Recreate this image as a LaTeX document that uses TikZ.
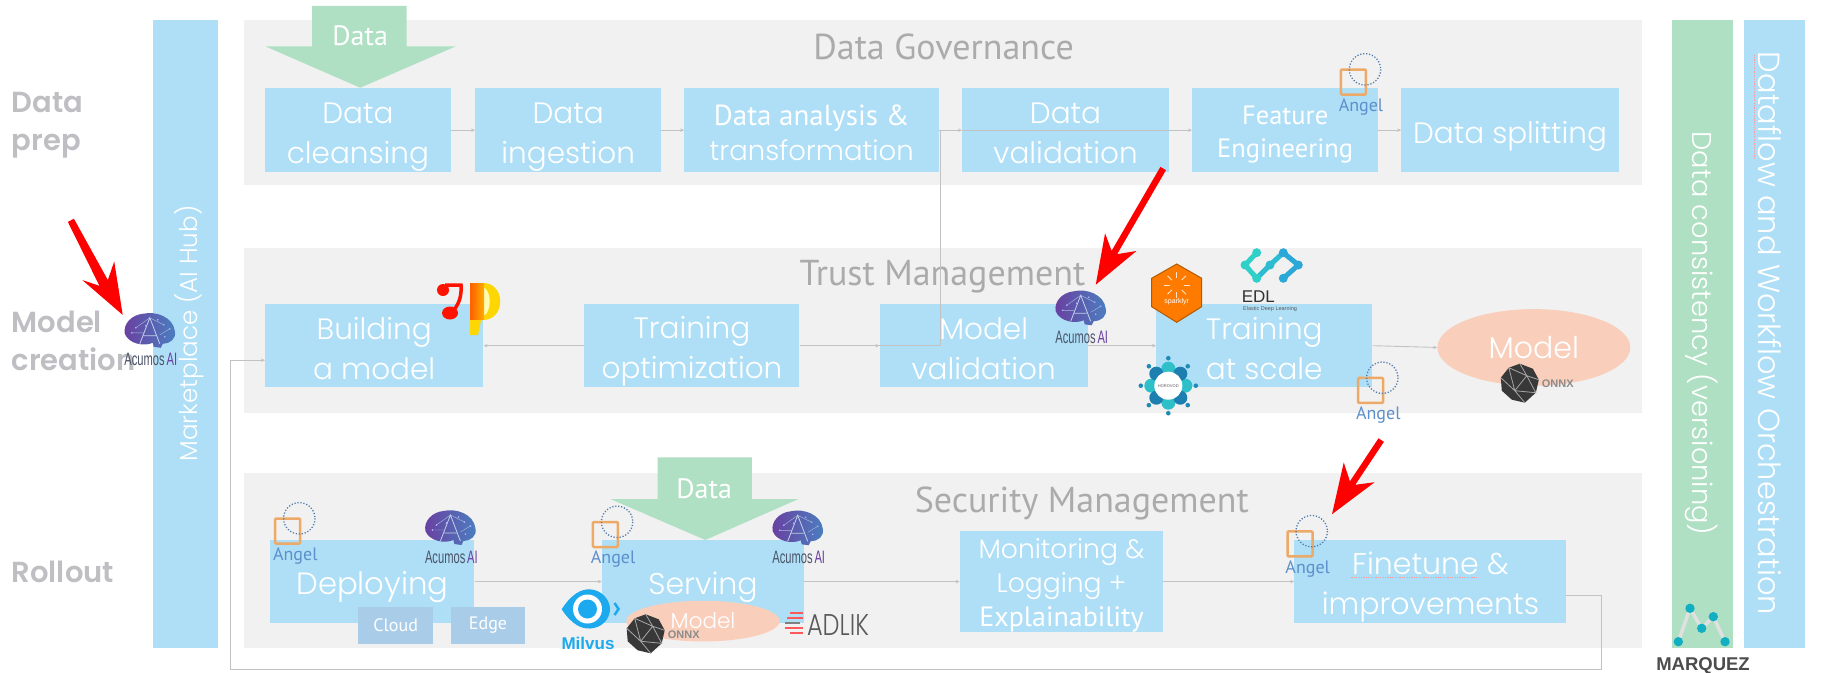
\documentclass[tikz,border=0pt]{standalone}
\usepackage{fontspec}
\usepackage{graphicx}
\usetikzlibrary{arrows.meta,shapes.geometric}
\setmainfont{PT Sans}
\newfontfamily\lightf{Poppins}[UprightFont=* Light]
\newfontfamily\semif{Poppins}[UprightFont=* SemiBold]
\newfontfamily\ptf{PT Sans}
\newfontfamily\sansf{Liberation Sans}
\newcommand\fs[2]{\fontsize{#1}{#2}\selectfont}
\newcommand\ltop{\rule{0pt}{34pt}}
\newcommand\lbot{\rule[-7pt]{0pt}{7pt}}
\definecolor{boxblue}{HTML}{AEDFF7}
\definecolor{panelgrey}{HTML}{F1F1F1}
\definecolor{barmint}{HTML}{AFE0C3}
\definecolor{peach}{HTML}{F9CFBC}
\definecolor{cloudblue}{HTML}{A9CCE8}
\definecolor{labelgrey}{HTML}{BEBEC3}
\definecolor{headgrey}{HTML}{ABABAB}
\definecolor{linegrey}{HTML}{C2C2C2}
\definecolor{angelblue}{HTML}{5C8FCB}
\definecolor{angelorange}{HTML}{EDA968}
\definecolor{brainpurple}{HTML}{6A3FA0}
\definecolor{brainblue}{HTML}{4A7FC0}
\definecolor{acgrey}{HTML}{4A5468}
\definecolor{edlteal}{HTML}{2FD0C8}
\definecolor{edlblue}{HTML}{2BA8D8}
\definecolor{horoblue}{HTML}{1C7FB0}
\definecolor{horoteal}{HTML}{2FBFC8}
\definecolor{milvus}{HTML}{1DA9EE}
\definecolor{marqteal}{HTML}{12AEC2}
\tikzset{
 panel/.style={fill=panelgrey,draw=none,inner sep=0pt},
 bar/.style={fill=boxblue,draw=none,inner sep=0pt,text=white},
 bx/.style={fill=boxblue,draw=none,inner sep=0pt,text=white,align=center},
 subbox/.style={fill=cloudblue,draw=none,inner sep=0pt,text=white,font=\ptf\fs{18}{20}},
 modelell/.style={ellipse,fill=peach,draw=none,inner sep=0pt,text=white},
 flow/.style={draw=linegrey,line width=0.9pt,-{Stealth[length=4pt,width=3.5pt]}},
 plainflow/.style={draw=linegrey,line width=0.9pt},
 heading/.style={text=headgrey,font=\ptf\fs{36}{38},inner sep=0pt},
 sidelabel/.style={text=labelgrey,font=\semif\fs{29}{38},align=left,anchor=west,inner sep=0pt},
 dataarrow/.style={fill=barmint,draw=none},
 redarrow/.style={fill=red,draw=none},
 lgt/.style={font=\lightf\fs{#1}{40}},
}
\newcommand\acumoslogo[3]{%
 \begin{scope}[shift={(#2pt,-#3pt)},x=1pt,y=-1pt]
  \path[left color=brainpurple,right color=brainblue,draw=none]
   (-25,3) .. controls (-27,-7) and (-18,-16) .. (-7,-17) .. controls (6,-20) and (23,-14) .. (25,0)
   .. controls (27,8) and (20,13) .. (13,13) -- (11,17) -- (4,16) -- (3,12) .. controls (-6,16) and (-21,13) .. (-25,3) -- cycle;
  \draw[brainblue!35!white,line width=0.8pt] (-10,13) -- (0,-13) -- (10,13) (-6,5) -- (6,5);
  \draw[brainblue!50!white,line width=0.4pt] (0,-13) -- (-14,-3) (0,-13) -- (14,-6) (10,4) -- (20,-2) (-18,2) -- (-6,2);
  \foreach \a/\b in {-14/-3,14/-6,20/-2,-18/2,8/-11,-4/-5,15/6}{\fill[white!70!blue] (\a,\b) circle (0.9);}
  \node[inner sep=0pt,font=\sansf\fs{18}{19}] (#1txt) at (1,29) {\scalebox{0.62}[1]{\textcolor{acgrey}{Acumos}\,\textcolor{brainpurple}{AI}}};
 \end{scope}}
\newcommand\angellogo[3]{%
 \begin{scope}[shift={(#2pt,-#3pt)},x=1pt,y=-1pt]
  \draw[angelorange,line width=2.5pt,rounded corners=1pt] (-12.5,-12.5) rectangle (12.5,12.5);
  \draw[angelblue!85!black,line width=1.3pt,dash pattern=on 1.2pt off 1.8pt] (11.7,-12.7) circle (15.7);
  \node[inner sep=0pt,text=angelblue,font=\ptf\fs{18}{19}] (#1txt) at (7.7,24.7) {Angel};
 \end{scope}}
\newcommand\onnxlogo[3]{%
 \begin{scope}[shift={(#2pt,-#3pt)},x=1pt,y=-1pt]
  \fill[black!78] (0,-19) -- (13,-14) -- (19,-3) -- (16,10) -- (5,20) -- (-8,17) -- (-18,8) -- (-19,-5) -- (-11,-15) -- cycle;
  \draw[black!35,line width=0.8pt] (-11,-15) -- (7,-7) -- (19,-3) (7,-7) -- (0,-19) (7,-7) -- (-5,8) -- (5,20) (-5,8) -- (-19,-5) (-11,-15) -- (-5,8) (7,-7) -- (16,10) -- (-5,8);
  \node[inner sep=0pt,text=black!45,font=\sansf\bfseries\fs{11}{12}] (#1txt) at (38,1) {ONNX};
 \end{scope}}
\begin{document}
\begin{tikzpicture}[x=1.162pt,y=-1.162pt]
\useasboundingbox (0pt,0pt) rectangle (1822pt,-672pt);
\fill[white] (0pt,0pt) rectangle (1822pt,-672pt);
% panels and bars
\path[panel] (210,17) rectangle (1413,159);
\path[panel] (210,213) rectangle (1413,355);
\path[panel] (210,407) rectangle (1413,558);
\node[bar,minimum width={56*1.162pt},minimum height={541*1.162pt}] (market) at (160,287.5) {};
\node[text=white,rotate=90,inner sep=0pt,font=\lightf\fs{24.6}{26}] (markettxt) at (163,287) {Marketplace (AI Hub)};
\node[bar,fill=barmint,minimum width={52*1.162pt},minimum height={541*1.162pt}] (consist) at (1465,287.5) {};
\node[text=white,rotate=-90,inner sep=0pt,font=\lightf\fs{27.3}{30}] (consisttxt) at (1464,287) {Data consistency (versioning)};
\node[bar,minimum width={52*1.162pt},minimum height={541*1.162pt}] (orch) at (1527,287.5) {};
\node[text=white,rotate=-90,inner sep=0pt,font=\lightf\fs{30.5}{33}] (orchtxt) at (1523,287) {Dataflow and Workflow Orchestration};
\draw[red!40!white,line width=1pt,dash pattern=on 1.2pt off 1.2pt] (1510,47) -- (1510,137);
% side labels
\node[sidelabel] (lblprep) at (10,107.5) {Data\\prep};
\node[sidelabel] (lblmodel) at (10,293.5) {Model\\creation};
\node[sidelabel] (lblroll) at (10,492) {Rollout};
% headings
\node[heading] (h1) at (812,40) {Data Governance};
\node[heading] (h2) at (811,238) {Trust Management};
\node[heading] (h3) at (931,433) {Security Management};
% data arrows
\path[dataarrow] (268.6,5) -- (350,5) -- (350,40) -- (392,40) -- (310,75.5) -- (228.6,40) -- (268.6,40) -- cycle;
\node[text=white,inner sep=0pt,font=\ptf\fs{28}{29}] (data1) at (310,31) {Data};
% row 1
\node[bx,lgt=29.5,minimum width={160*1.162pt},minimum height={72*1.162pt}] (clean) at (308,112) {\ltop Data\\cleansing\lbot};
\node[bx,lgt=29.5,minimum width={160*1.162pt},minimum height={72*1.162pt}] (ingest) at (489,112) {\ltop Data\\ingestion\lbot};
\node[bx,font=\fs{28}{35},minimum width={219*1.162pt},minimum height={72*1.162pt}] (analysis) at (698.5,112) {\rule{0pt}{32pt}{\ptf\fs{29}{35}Data analysis \&}\\{\lightf\fs{27.5}{35}transformation}\lbot};
\node[bx,lgt=29.5,minimum width={178*1.162pt},minimum height={72*1.162pt}] (valid) at (917,112) {\ltop Data\\validation\lbot};
\node[bx,font=\fs{26}{33},minimum width={160*1.162pt},minimum height={72*1.162pt}] (feature) at (1106,112) {\rule{0pt}{28pt}{\ptf\fs{26.5}{33}Feature\hspace{14pt}}\\{\ptf\fs{26.5}{33}Engineering}\rule[-6pt]{0pt}{6pt}};
\node[bx,lgt=29.5,minimum width={187*1.162pt},minimum height={72*1.162pt}] (split) at (1299.5,112) {\ltop Data splitting\lbot};
% row 2
\node[bx,lgt=29.5,minimum width={188*1.162pt},minimum height={71*1.162pt}] (build) at (322,297.5) {\ltop Building\\a model\lbot};
\node[bx,lgt=29.5,minimum width={185*1.162pt},minimum height={71*1.162pt}] (topt) at (595.5,297.5) {\ltop Training\\optimization\lbot};
\node[bx,lgt=29.5,minimum width={179*1.162pt},minimum height={71*1.162pt}] (mval) at (846.5,297.5) {\ltop Model\\validation\lbot};
\node[bx,lgt=29.5,minimum width={186*1.162pt},minimum height={71*1.162pt}] (scale) at (1088,297.5) {\ltop Training\\at scale\lbot};
\node[modelell,lgt=30,minimum width={166*1.162pt},minimum height={66*1.162pt}] (model) at (1320,299) {Model};
% row 3
\node[bx,lgt=30.7,minimum width={175.5*1.162pt},minimum height={71*1.162pt}] (deploy) at (320.5,500.5) {\ltop Deploying\lbot};
\path[dataarrow] (566,393.5) -- (647,393.5) -- (647,429.5) -- (687,429.5) -- (607,464.7) -- (525.5,429.5) -- (566,429.5) -- cycle;
\node[text=white,inner sep=0pt,font=\ptf\fs{28}{29}] (data2) at (606,421) {Data};
\node[bx,lgt=30,minimum width={174*1.162pt},minimum height={71*1.162pt}] (serve) at (605,500.5) {\ltop Serving\lbot};
\node[bx,font=\fs{26}{33.7},minimum width={175*1.162pt},minimum height={85*1.162pt}] (monitor) at (913.5,500.5) {\rule{0pt}{28pt}{\lightf\fs{26.6}{33.7}Monitoring \&}\\{\lightf\fs{26.6}{33.7}Logging +}\\{\ptf\fs{28}{33.7}Explainability}\rule[-6pt]{0pt}{6pt}};
\node[bx,lgt=30,minimum width={234*1.162pt},minimum height={71*1.162pt}] (fine) at (1231,500.5) {\ltop Finetune \&\\improvements\lbot};
\node[subbox,minimum width={65*1.162pt},minimum height={32*1.162pt}] (cloud) at (340.5,538) {Cloud};
\node[subbox,minimum width={64*1.162pt},minimum height={32*1.162pt}] (edge) at (420,538) {Edge};
\node[modelell,lgt=21.5,minimum width={132*1.162pt},minimum height={35*1.162pt}] (model2) at (605,534.5) {Model};
\draw[red!40!white,line width=1pt,dash pattern=on 1.2pt off 1.2pt] (1163,497) -- (1272,497);
% connectors
\draw[flow] (clean.east) -- (ingest.west);
\draw[flow] (ingest.east) -- (analysis.west);
\draw[flow] (analysis.east) -- (valid.west);
\draw[flow] (valid.west) -- (feature.west);
\draw[flow] (feature.east) -- (split.west);
\coordinate (junctop) at (809.5,112);
\coordinate (junctbot) at (809.5,297.5);
\draw[plainflow] (junctop) -- (junctbot) -- (mval.west);
\draw[flow] (topt.west) -- (build.east);
\draw[flow] (topt.east) -- (mval.west);
\draw[flow] (mval.east) -- (scale.west);
\draw[flow] (scale.east) -- (model.west);
\draw[flow] (deploy.east) -- (serve.west);
\draw[flow] (serve.east) -- (monitor.west);
\draw[flow] (monitor.east) -- (fine.west);
\coordinate (r0) at (1348,512);
\coordinate (r1) at (1378,512);
\coordinate (r2) at (1378,576.5);
\coordinate (r3) at (198,576.5);
\coordinate (r4) at (198,310);
\coordinate (r5) at (228,310);
\draw[flow] (r0) -- (r1) -- (r2) -- (r3) -- (r4) -- (r5);
% red arrows
\path[redarrow] (63.6,188.2) -- (92.8,241) -- (98.3,225) -- (105.6,271) -- (70.8,241) -- (85.6,246) -- (58.4,191) -- cycle;
\path[redarrow] (1003.4,146.4) -- (961.4,218.7) -- (978,216) -- (943,245) -- (951,200.7) -- (956.6,215.9) -- (998.6,143.6) -- cycle;
\path[redarrow] (1191,380.2) -- (1166.3,417.2) -- (1183,415) -- (1146.3,442.5) -- (1156.4,398) -- (1161.7,414.2) -- (1186.3,377.2) -- cycle;
% Acumos and Angel logos
\acumoslogo{acleft}{149.8}{330.8}
\acumoslogo{acmval}{1080.7}{308.3}
\acumoslogo{acdep}{450.4}{528}
\acumoslogo{acserve}{797.7}{528.3}
\angellogo{anfeat}{1353.3}{82}
\angellogo{anscale}{1370.6}{390.4}
\angellogo{andep}{287.6}{531}
\angellogo{anserve}{605.4}{534.5}
\angellogo{anfine}{1300}{543.8}
\onnxlogo{onnxa}{1519.8}{382.7}
\onnxlogo{onnxb}{645.7}{633.3}
% all remaining logos, in image pixels
\begin{scope}[x=1pt,y=-1pt]
 % notebook logo
 \fill[red!85!orange] (443,290) circle (6);
 \draw[red!85!orange,line width=3.5pt] (445,285) -- (461,285) .. controls (462,297) and (458,306) .. (452,312);
 \fill[red!85!orange] (450,313) ellipse (8 and 6.5);
 \fill[yellow!75!orange] (483,283) .. controls (506,283) and (506,320) .. (483,320) -- cycle;
 \fill[yellow!30!white] (483,287) .. controls (492,290) and (492,313) .. (483,316) -- cycle;
 \fill[yellow!75!orange] (470,316) -- (482,316) -- (478,335) -- (470,335) -- cycle;
 \path[left color=orange!75!red,right color=orange!65!yellow] (470,283) rectangle (484,319);
 % sparklyr
 \path[fill=orange!85!red!90!yellow,draw=orange!70!black,line width=1pt] (1176.7,264) -- (1201.7,278.3) -- (1201.7,306.7) -- (1176.7,322.3) -- (1151.7,306.7) -- (1151.7,278.3) -- cycle;
 \foreach \r in {0,45,...,315}{\draw[white!80!orange,line width=0.9pt,rotate around={\r:(1176.7,285)}] (1176.7,278) -- (1176.7,272);}
 \node[inner sep=0pt,text=white,font=\sansf\fs{7}{8}] (sparktxt) at (1176.7,301.7) {sparklyr};
 % EDL
 \draw[edlteal,line width=5pt,line cap=round,line join=round] (1256.7,252.7) -- (1245,265) -- (1256.7,278.3);
 \draw[edlteal!50!edlblue,line width=5pt,line cap=round,line join=round] (1256.7,278.3) -- (1270,265) -- (1283.3,252.7);
 \draw[edlblue,line width=5pt,line cap=round,line join=round] (1283.3,252.7) -- (1298.3,265) -- (1283.3,278.3);
 \fill[edlteal] (1245,265) circle (4.5) (1256.7,252.7) circle (4.5) (1256.7,278.3) circle (4.5);
 \fill[edlblue] (1283.3,252.7) circle (4.5) (1298.3,265) circle (4.5) (1283.3,278.3) circle (4.5);
 \fill[edlteal!50!edlblue] (1270,265) circle (4.5);
 \node[inner sep=0pt,text=black!80,font=\sansf\fs{17}{18}] (edltxt) at (1258.3,296.7) {EDL};
 \node[inner sep=0pt,text=black!65,font=\sansf\fs{5.5}{6}] (edlsub) at (1270,309) {Elastic Deep Learning};
 % horovod
 \foreach \r in {0,90,180,270}{\fill[horoteal] (1168.3,385.7) ++(\r:17) circle (7);}
 \foreach \r in {45,135,225,315}{\fill[horoblue] (1168.3,385.7) ++(\r:17) circle (7);}
 \foreach \r in {0,45,...,315}{\fill[horoblue!80!horoteal] (1168.3,385.7) ++(\r:27.5) circle (2.3);}
 \fill[white] (1168.3,385.7) circle (14);
 \node[inner sep=0pt,text=black!65,font=\sansf\fs{4}{5}] (horotxt) at (1168.3,385.7) {HOROVOD};
 % milvus
 \fill[milvus] (561.7,609.3) .. controls (572,593) and (582,589) .. (590,589.3) .. controls (602,590) and (610,600) .. (610,609) .. controls (610,619) and (602,628) .. (590,628.5) .. controls (582,629) and (572,625) .. (561.7,609.3) -- cycle;
 \fill[white] (587.5,609) circle (14.5);
 \fill[milvus] (587.5,609) circle (9.5);
 \draw[milvus,line width=2.5pt] (614.5,603) -- (618.5,609) -- (614.5,615);
 \node[inner sep=0pt,text=milvus,font=\sansf\bfseries\fs{17}{18}] (milvustxt) at (588,643) {Milvus};
 % adlik
 \draw[red!65!white,line width=1.5pt] (790,613) -- (803,613) (787,618) -- (803,618) (785,628) -- (803,628) (790,633) -- (803,633);
 \draw[black!50,line width=1.5pt] (785,623) -- (800,623);
 \node[inner sep=0pt,text=black!65,font=\lightf\fs{30}{32}] (adliktxt) at (838,625) {\scalebox{0.8}[1]{ADLIK}};
 % marquez
 \draw[black!12,line width=3.5pt] (1678.3,641.7) -- (1690,608.3) -- (1701.7,628.3) -- (1713.3,616.7) -- (1725,641.7);
 \foreach \a/\b in {1678.3/641.7,1690/608.3,1701.7/628.3,1713.3/616.7,1725/641.7}{\fill[marqteal] (\a,\b) circle (4.7);}
 \node[inner sep=0pt,text=black!70,font=\sansf\bfseries\fs{18.5}{19}] (marqtxt) at (1703,666) {MARQUEZ};
\end{scope}
\end{tikzpicture}
\end{document}
